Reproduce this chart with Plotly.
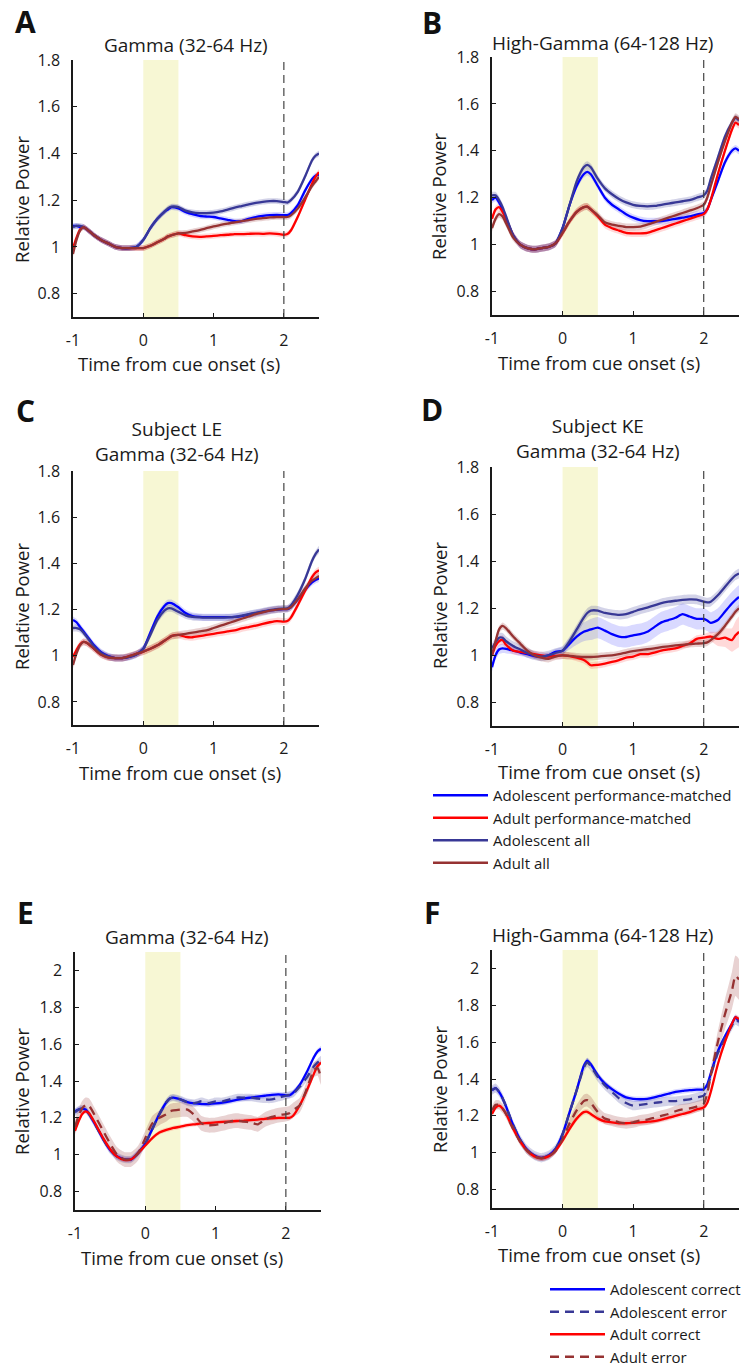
import plotly.graph_objects as go

# ---------------- data ----------------
TIME = [-1.0, -0.95, -0.9, -0.85, -0.8, -0.7, -0.6, -0.5, -0.4, -0.3, -0.2, -0.1,
        0.0, 0.1, 0.2, 0.3, 0.35, 0.4, 0.5, 0.6, 0.7, 0.8, 0.9, 1.0, 1.1, 1.2, 1.3,
        1.4, 1.5, 1.6, 1.7, 1.8, 1.9, 2.0, 2.05, 2.1, 2.2, 2.3, 2.4, 2.45, 2.5]

X_TICKS = [-1, 0, 1, 2]
X_TICK_TEXT = ["-1", "0", "1", "2"]
Y_TICKS_ABCD = [0.8, 1.0, 1.2, 1.4, 1.6, 1.8]
Y_TICK_TEXT_ABCD = ["0.8", "1", "1.2", "1.4", "1.6", "1.8"]
Y_TICKS_EF = [0.8, 1.0, 1.2, 1.4, 1.6, 1.8, 2.0]
Y_TICK_TEXT_EF = ["0.8", "1", "1.2", "1.4", "1.6", "1.8", "2"]
CUE_WINDOW = [0.0, 0.5]
DELAY_END = 2.0

NAMES_MATCHED = ["Adolescent performance-matched", "Adult performance-matched",
                 "Adolescent all", "Adult all"]
NAMES_OUTCOME = ["Adolescent correct", "Adolescent error", "Adult correct", "Adult error"]

# Panel A - Gamma
A_ADOL_PM = [1.09, 1.09, 1.085, 1.085, 1.075, 1.05, 1.03, 1.015, 1.0, 0.995, 0.995, 1.0,
             1.03, 1.08, 1.12, 1.15, 1.16, 1.17, 1.165, 1.15, 1.14, 1.133, 1.13, 1.128, 1.122, 1.116, 1.11,
             1.11, 1.12, 1.128, 1.133, 1.136, 1.137, 1.136, 1.136, 1.145, 1.18, 1.24, 1.29, 1.305, 1.31]
A_ADULT_PM = [0.995, 1.04, 1.075, 1.085, 1.075, 1.05, 1.03, 1.015, 1.0, 0.995, 0.995, 0.995,
              0.995, 1.005, 1.02, 1.035, 1.045, 1.05, 1.058, 1.05, 1.045, 1.043, 1.045, 1.047, 1.05, 1.052, 1.055,
              1.055, 1.056, 1.057, 1.056, 1.058, 1.056, 1.052, 1.055, 1.07, 1.13, 1.2, 1.27, 1.3, 1.32]
A_ADOL_ALL = [1.085, 1.09, 1.09, 1.085, 1.075, 1.05, 1.03, 1.015, 1.0, 0.995, 0.995, 1.0,
              1.03, 1.08, 1.12, 1.15, 1.165, 1.172, 1.17, 1.155, 1.148, 1.145, 1.145, 1.147, 1.152, 1.16, 1.168,
              1.175, 1.182, 1.188, 1.193, 1.196, 1.196, 1.192, 1.19, 1.2, 1.237, 1.3, 1.37, 1.39, 1.4]
A_ADULT_ALL = [0.97, 1.03, 1.07, 1.085, 1.075, 1.05, 1.03, 1.015, 1.0, 0.995, 0.995, 0.995,
               0.995, 1.005, 1.02, 1.035, 1.045, 1.05, 1.058, 1.06, 1.066, 1.072, 1.08, 1.088, 1.094, 1.1, 1.105,
               1.11, 1.115, 1.12, 1.123, 1.126, 1.128, 1.128, 1.128, 1.135, 1.165, 1.21, 1.26, 1.28, 1.3]

# Panel B - High-Gamma
B_ADOL_PM = [1.19, 1.2, 1.18, 1.15, 1.11, 1.04, 1.0, 0.985, 0.98, 0.985, 0.99, 1.005,
             1.07, 1.17, 1.25, 1.3, 1.31, 1.3, 1.25, 1.2, 1.17, 1.15, 1.13, 1.115, 1.105, 1.1, 1.1,
             1.1, 1.105, 1.11, 1.115, 1.12, 1.128, 1.135, 1.15, 1.19, 1.27, 1.35, 1.4, 1.41, 1.4]
B_ADULT_PM = [1.11, 1.15, 1.16, 1.14, 1.11, 1.04, 1.0, 0.985, 0.98, 0.985, 0.99, 1.005,
              1.05, 1.1, 1.14, 1.16, 1.162, 1.15, 1.12, 1.085, 1.07, 1.06, 1.05, 1.048, 1.048, 1.05, 1.06,
              1.07, 1.08, 1.09, 1.1, 1.11, 1.12, 1.13, 1.15, 1.19, 1.3, 1.4, 1.49, 1.52, 1.51]
B_ADOL_ALL = [1.21, 1.21, 1.19, 1.16, 1.12, 1.04, 1.0, 0.985, 0.98, 0.985, 0.99, 1.005,
              1.07, 1.17, 1.27, 1.33, 1.34, 1.33, 1.28, 1.24, 1.215, 1.195, 1.18, 1.17, 1.165, 1.163, 1.165,
              1.17, 1.175, 1.18, 1.185, 1.19, 1.2, 1.21, 1.23, 1.28, 1.37, 1.46, 1.52, 1.54, 1.53]
B_ADULT_ALL = [1.07, 1.11, 1.13, 1.12, 1.09, 1.03, 1.0, 0.985, 0.98, 0.985, 0.99, 1.005,
               1.05, 1.1, 1.14, 1.16, 1.162, 1.15, 1.125, 1.095, 1.085, 1.08, 1.075, 1.075, 1.077, 1.085, 1.095,
               1.105, 1.115, 1.125, 1.135, 1.145, 1.155, 1.17, 1.2, 1.25, 1.35, 1.44, 1.52, 1.545, 1.535]

# Panel C - Subject LE, Gamma
C_ADOL_PM = [1.155, 1.145, 1.125, 1.105, 1.085, 1.045, 1.015, 0.998, 0.99, 0.99, 0.995, 1.005,
             1.03, 1.1, 1.17, 1.215, 1.228, 1.228, 1.21, 1.185, 1.172, 1.168, 1.167, 1.167, 1.167, 1.167, 1.168,
             1.172, 1.178, 1.184, 1.19, 1.196, 1.2, 1.202, 1.202, 1.21, 1.245, 1.285, 1.318, 1.328, 1.335]
C_ADULT_PM = [0.995, 1.025, 1.05, 1.06, 1.055, 1.03, 1.005, 0.993, 0.99, 0.99, 0.998, 1.008,
              1.018, 1.03, 1.045, 1.065, 1.075, 1.085, 1.09, 1.082, 1.08, 1.085, 1.09, 1.095, 1.1, 1.105, 1.11,
              1.118, 1.124, 1.13, 1.138, 1.145, 1.15, 1.148, 1.15, 1.165, 1.22, 1.28, 1.34, 1.36, 1.37]
C_ADOL_ALL = [1.12, 1.12, 1.115, 1.1, 1.08, 1.04, 1.012, 0.997, 0.99, 0.99, 0.995, 1.005,
              1.03, 1.09, 1.155, 1.195, 1.205, 1.205, 1.19, 1.175, 1.168, 1.166, 1.165, 1.165, 1.165, 1.166, 1.168,
              1.174, 1.18, 1.186, 1.192, 1.198, 1.202, 1.204, 1.205, 1.218, 1.265, 1.33, 1.41, 1.44, 1.46]
C_ADULT_ALL = [0.96, 1.01, 1.045, 1.06, 1.055, 1.03, 1.005, 0.993, 0.99, 0.99, 0.998, 1.008,
               1.018, 1.03, 1.045, 1.065, 1.075, 1.085, 1.09, 1.095, 1.1, 1.105, 1.11, 1.12, 1.13, 1.14, 1.15,
               1.16, 1.17, 1.18, 1.188, 1.195, 1.2, 1.202, 1.203, 1.21, 1.245, 1.29, 1.325, 1.335, 1.345]

# Panel D - Subject KE, Gamma
D_ADOL_PM = [0.95, 1.0, 1.025, 1.03, 1.028, 1.02, 1.012, 1.005, 0.997, 0.995, 1.0, 1.015,
             1.02, 1.05, 1.08, 1.1, 1.105, 1.11, 1.118, 1.105, 1.09, 1.08, 1.078, 1.085, 1.09, 1.1, 1.12,
             1.14, 1.15, 1.16, 1.175, 1.165, 1.155, 1.155, 1.148, 1.138, 1.15, 1.185, 1.22, 1.235, 1.248]
D_ADULT_PM = [1.0, 1.04, 1.06, 1.065, 1.045, 1.02, 1.015, 1.01, 1.005, 1.0, 0.995, 0.998,
              1.0, 0.997, 0.99, 0.98, 0.97, 0.958, 0.96, 0.965, 0.972, 0.98, 0.99, 0.995, 1.005, 1.005, 1.012,
              1.02, 1.025, 1.03, 1.04, 1.05, 1.07, 1.075, 1.078, 1.08, 1.07, 1.075, 1.065, 1.085, 1.1]
D_ADOL_ALL = [1.03, 1.055, 1.075, 1.075, 1.06, 1.04, 1.025, 1.01, 1.0, 0.995, 1.0, 1.01,
              1.02, 1.06, 1.11, 1.16, 1.18, 1.19, 1.19, 1.18, 1.175, 1.172, 1.175, 1.185, 1.195, 1.203, 1.212,
              1.222, 1.228, 1.232, 1.236, 1.238, 1.237, 1.228, 1.225, 1.228, 1.255, 1.29, 1.325, 1.34, 1.348]
D_ADULT_ALL = [1.0, 1.06, 1.11, 1.125, 1.115, 1.08, 1.05, 1.02, 1.0, 0.99, 0.985, 0.995,
               1.0, 0.998, 0.995, 0.993, 0.993, 0.993, 0.995, 0.998, 1.0, 1.005, 1.012, 1.018, 1.022, 1.026, 1.03,
               1.035, 1.038, 1.042, 1.045, 1.048, 1.05, 1.052, 1.055, 1.065, 1.09, 1.125, 1.165, 1.185, 1.2]

# Panel E - Gamma, correct vs error
E_ADOL_COR = [1.235, 1.245, 1.25, 1.245, 1.22, 1.155, 1.085, 1.025, 0.99, 0.975, 0.975, 1.01,
              1.06, 1.14, 1.22, 1.285, 1.305, 1.31, 1.3, 1.285, 1.278, 1.275, 1.275, 1.278, 1.283, 1.29, 1.298,
              1.305, 1.31, 1.315, 1.32, 1.325, 1.327, 1.322, 1.322, 1.335, 1.38, 1.45, 1.53, 1.56, 1.575]
E_ADOL_ERR = [1.23, 1.245, 1.25, 1.245, 1.22, 1.155, 1.085, 1.025, 0.99, 0.975, 0.975, 1.01,
              1.06, 1.14, 1.22, 1.285, 1.305, 1.31, 1.3, 1.285, 1.28, 1.29, 1.28, 1.29, 1.29, 1.3, 1.31,
              1.31, 1.31, 1.305, 1.3, 1.3, 1.31, 1.32, 1.325, 1.33, 1.37, 1.42, 1.48, 1.5, 1.515]
E_ADULT_COR = [1.13, 1.18, 1.22, 1.235, 1.225, 1.16, 1.09, 1.03, 0.99, 0.972, 0.975, 1.01,
               1.05, 1.09, 1.12, 1.135, 1.14, 1.145, 1.152, 1.16, 1.165, 1.17, 1.172, 1.175, 1.178, 1.18, 1.183,
               1.185, 1.188, 1.19, 1.195, 1.198, 1.2, 1.2, 1.2, 1.21, 1.27, 1.35, 1.44, 1.48, 1.5]
E_ADULT_ERR = [1.15, 1.21, 1.25, 1.27, 1.265, 1.2, 1.13, 1.06, 1.0, 0.975, 0.975, 1.01,
               1.09, 1.17, 1.2, 1.22, 1.235, 1.24, 1.245, 1.245, 1.215, 1.17, 1.16, 1.162, 1.17, 1.18, 1.185,
               1.18, 1.175, 1.165, 1.19, 1.205, 1.215, 1.22, 1.225, 1.24, 1.27, 1.36, 1.46, 1.47, 1.42]

# Panel F - High-Gamma, correct vs error
F_ADOL_COR = [1.34, 1.35, 1.33, 1.295, 1.25, 1.15, 1.07, 1.015, 0.985, 0.972, 0.985, 1.02,
              1.1, 1.22, 1.34, 1.47, 1.5, 1.48, 1.42, 1.375, 1.345, 1.32, 1.3, 1.292, 1.29, 1.292, 1.3,
              1.31, 1.32, 1.33, 1.335, 1.34, 1.342, 1.345, 1.37, 1.43, 1.55, 1.63, 1.7, 1.735, 1.71]
F_ADOL_ERR = [1.34, 1.35, 1.33, 1.295, 1.25, 1.15, 1.07, 1.015, 0.985, 0.972, 0.985, 1.02,
              1.1, 1.22, 1.34, 1.46, 1.49, 1.47, 1.41, 1.365, 1.33, 1.295, 1.27, 1.255, 1.26, 1.265, 1.27,
              1.275, 1.28, 1.28, 1.285, 1.29, 1.3, 1.31, 1.35, 1.42, 1.54, 1.62, 1.69, 1.72, 1.71]
F_ADULT_COR = [1.21, 1.245, 1.255, 1.24, 1.21, 1.13, 1.06, 1.01, 0.98, 0.97, 0.98, 1.01,
               1.065, 1.13, 1.185, 1.22, 1.222, 1.21, 1.185, 1.17, 1.165, 1.16, 1.16, 1.162, 1.165, 1.168, 1.172,
               1.18, 1.19, 1.2, 1.21, 1.22, 1.235, 1.245, 1.27, 1.33, 1.48, 1.6, 1.7, 1.735, 1.725]
F_ADULT_ERR = [1.23, 1.26, 1.26, 1.24, 1.21, 1.13, 1.06, 1.01, 0.98, 0.97, 0.98, 1.01,
               1.075, 1.16, 1.23, 1.28, 1.285, 1.27, 1.22, 1.185, 1.175, 1.165, 1.16, 1.165, 1.175, 1.18, 1.19,
               1.2, 1.21, 1.225, 1.235, 1.24, 1.25, 1.265, 1.32, 1.42, 1.6, 1.75, 1.88, 1.96, 1.94]

# standard errors (shaded bands)
SEM_A = [0.012, 0.012, 0.012, 0.012]
SEM_B = [0.015, 0.015, 0.015, 0.015]
SEM_C = [0.015, 0.015, 0.015, 0.015]
D_ADOL_PM_SEM = [0.02, 0.02, 0.02, 0.02, 0.02, 0.015, 0.015, 0.015, 0.012, 0.012, 0.012, 0.012,
                 0.015, 0.025, 0.035, 0.04, 0.042, 0.045, 0.045, 0.045, 0.045, 0.045, 0.045, 0.045, 0.045, 0.045, 0.045,
                 0.045, 0.045, 0.045, 0.045, 0.045, 0.045, 0.045, 0.045, 0.045, 0.05, 0.05, 0.05, 0.05, 0.05]
D_ADULT_PM_SEM = [0.02, 0.02, 0.02, 0.02, 0.02, 0.015, 0.015, 0.015, 0.015, 0.015, 0.015, 0.015,
                  0.015, 0.015, 0.015, 0.015, 0.015, 0.015, 0.015, 0.015, 0.015, 0.015, 0.015, 0.015, 0.015, 0.015, 0.015,
                  0.015, 0.015, 0.015, 0.015, 0.015, 0.015, 0.015, 0.018, 0.02, 0.03, 0.04, 0.05, 0.06, 0.065]
SEM_D_ALL = [0.02, 0.015]
SEM_E = [0.015, 0.02, 0.012, 0.04]
SEM_F = [0.015, 0.025, 0.015]
F_ADULT_ERR_SEM = [0.025, 0.025, 0.025, 0.025, 0.025, 0.02, 0.02, 0.02, 0.015, 0.015, 0.015, 0.015,
                   0.02, 0.025, 0.03, 0.035, 0.035, 0.035, 0.03, 0.03, 0.03, 0.03, 0.03, 0.03, 0.03, 0.03, 0.03,
                   0.03, 0.03, 0.03, 0.03, 0.03, 0.03, 0.03, 0.035, 0.04, 0.06, 0.08, 0.1, 0.11, 0.11]

# ---------------- style ----------------
W, H = 753, 1369
FONT = "Open Sans"
BLUE, RED, NAVY, DRED = "#0000ff", "#ff0000", "#383896", "#963232"
BAND = {BLUE: "rgba(0,0,255,0.15)", RED: "rgba(255,0,0,0.15)",
        NAVY: "rgba(56,56,150,0.22)", DRED: "rgba(150,50,50,0.22)"}


def px(x):
    return x / W


def py(y):
    return 1 - y / H


# panel boxes in pixels: left, right, top, bottom
BOXES = [(73, 319, 60, 317), (492, 739, 57, 315),
         (73, 319, 471, 725), (492, 739, 467, 726),
         (75, 321, 952, 1210), (492, 739, 950, 1208)]

fig = go.Figure()


def add_series(k, y, sem, color, name, dash, legend, show):
    ax = "" if k == 1 else str(k)
    if isinstance(sem, (int, float)):
        sem = [sem] * len(y)
    up = [v + s for v, s in zip(y, sem)]
    lo = [v - s for v, s in zip(y, sem)]
    fig.add_trace(go.Scatter(x=TIME + TIME[::-1], y=up + lo[::-1], fill="toself",
                             fillcolor=BAND[color], line=dict(width=0, shape="spline", smoothing=0.6),
                             mode="lines", hoverinfo="skip", showlegend=False,
                             xaxis="x" + ax, yaxis="y" + ax))
    return dict(x=TIME, y=y, mode="lines", name=name,
                line=dict(color=color, width=2.3, dash=dash, shape="spline", smoothing=0.6),
                showlegend=show, legend=legend, xaxis="x" + ax, yaxis="y" + ax)


panels_matched = [
    (1, [A_ADOL_PM, A_ADULT_PM, A_ADOL_ALL, A_ADULT_ALL], SEM_A),
    (2, [B_ADOL_PM, B_ADULT_PM, B_ADOL_ALL, B_ADULT_ALL], SEM_B),
    (3, [C_ADOL_PM, C_ADULT_PM, C_ADOL_ALL, C_ADULT_ALL], SEM_C),
    (4, [D_ADOL_PM, D_ADULT_PM, D_ADOL_ALL, D_ADULT_ALL],
     [D_ADOL_PM_SEM, D_ADULT_PM_SEM, SEM_D_ALL[0], SEM_D_ALL[1]]),
]
colors_matched = [BLUE, RED, NAVY, DRED]
for k, series, sems in panels_matched:
    lines = []
    for y, s, c, n in zip(series, sems, colors_matched, NAMES_MATCHED):
        lines.append(add_series(k, y, s, c, n, "solid", "legend", k == 4))
    for ln in lines:
        fig.add_trace(go.Scatter(**ln))

panels_outcome = [
    (5, [E_ADOL_COR, E_ADOL_ERR, E_ADULT_COR, E_ADULT_ERR], SEM_E),
    (6, [F_ADOL_COR, F_ADOL_ERR, F_ADULT_COR, F_ADULT_ERR],
     [SEM_F[0], SEM_F[1], SEM_F[2], F_ADULT_ERR_SEM]),
]
colors_outcome = [BLUE, NAVY, RED, DRED]
dashes_outcome = ["solid", "9px,6px", "solid", "9px,6px"]
for k, series, sems in panels_outcome:
    lines = []
    for y, s, c, n, d in zip(series, sems, colors_outcome, NAMES_OUTCOME, dashes_outcome):
        lines.append(add_series(k, y, s, c, n, d, "legend2", k == 6))
    for ln in lines:
        fig.add_trace(go.Scatter(**ln))

layout = dict(width=W, height=H, margin=dict(l=0, r=0, t=0, b=0, autoexpand=False),
              paper_bgcolor="white", plot_bgcolor="rgba(0,0,0,0)",
              font=dict(family=FONT, size=16, color="#1a1a1a"),
              shapes=[], annotations=[])

for k, (l, r, t, b) in enumerate(BOXES, start=1):
    ax = "" if k == 1 else str(k)
    ef = k >= 5
    layout["xaxis" + ax] = dict(domain=[px(l), px(r)], range=[-1, 2.5], anchor="y" + ax,
                                tickvals=X_TICKS, ticktext=X_TICK_TEXT, ticks="inside", ticklen=4,
                                tickcolor="#1a1a1a", showline=True, linecolor="#1a1a1a", linewidth=1.5,
                                showgrid=False, zeroline=False, ticklabelstandoff=8, automargin=False,
                                tickfont=dict(size=16))
    layout["yaxis" + ax] = dict(domain=[py(b), py(t)], range=[0.7, 2.1] if ef else [0.7, 1.8],
                                anchor="x" + ax,
                                tickvals=Y_TICKS_EF if ef else Y_TICKS_ABCD,
                                ticktext=Y_TICK_TEXT_EF if ef else Y_TICK_TEXT_ABCD,
                                ticks="inside", ticklen=4, tickcolor="#1a1a1a",
                                showline=True, linecolor="#1a1a1a", linewidth=1.5,
                                showgrid=False, zeroline=False, ticklabelstandoff=8, automargin=False,
                                tickfont=dict(size=16))
    layout["shapes"].append(dict(type="rect", xref="x" + ax, yref="y" + ax + " domain",
                                 x0=CUE_WINDOW[0], x1=CUE_WINDOW[1], y0=0, y1=1,
                                 fillcolor="#f7f7d4", line=dict(width=0), layer="below"))
    layout["shapes"].append(dict(type="line", xref="x" + ax, yref="y" + ax + " domain",
                                 x0=DELAY_END, x1=DELAY_END, y0=0, y1=1,
                                 line=dict(color="#444444", width=1.2, dash="8px,5px"), layer="above"))

TITLES = [("Gamma (32-64 Hz)", 186, 45), ("High-Gamma (64-128 Hz)", 602, 43),
          ("Subject LE<br>Gamma (32-64 Hz)", 177, 441), ("Subject KE<br>Gamma (32-64 Hz)", 598, 439),
          ("Gamma (32-64 Hz)", 187, 937), ("High-Gamma (64-128 Hz)", 602, 935)]
for text, x, y in TITLES:
    layout["annotations"].append(dict(text=text, x=px(x), y=py(y), xref="paper", yref="paper",
                                      showarrow=False, xanchor="center", yanchor="middle",
                                      font=dict(size=19)))

XLAB = [(179, 363), (599, 362), (180, 772), (599, 771), (182, 1257), (599, 1254)]
YLAB = [(21, 200), (439, 197), (21, 607), (439, 606), (21, 1092), (439, 1090)]
for (xx, xy), (yx, yy) in zip(XLAB, YLAB):
    layout["annotations"].append(dict(text="Time from cue onset (s)", x=px(xx), y=py(xy),
                                      xref="paper", yref="paper", showarrow=False,
                                      xanchor="center", yanchor="middle", font=dict(size=18.5)))
    layout["annotations"].append(dict(text="Relative Power", x=px(yx), y=py(yy), textangle=-90,
                                      xref="paper", yref="paper", showarrow=False,
                                      xanchor="center", yanchor="middle", font=dict(size=18.5)))

LETTERS = [("A", 26, 22), ("B", 432, 23), ("C", 26, 410), ("D", 432, 409), ("E", 26, 913), ("F", 432, 913)]
for text, x, y in LETTERS:
    layout["annotations"].append(dict(text="<b>" + text + "</b>", x=px(x), y=py(y),
                                      xref="paper", yref="paper", showarrow=False,
                                      xanchor="center", yanchor="middle",
                                      font=dict(size=30, color="#111111")))

layout["legend"] = dict(x=px(428), y=py(779), xanchor="left", yanchor="top",
                        bgcolor="rgba(0,0,0,0)", font=dict(size=15), itemwidth=55,
                        tracegroupgap=0)
layout["legend2"] = dict(x=px(545), y=py(1273), xanchor="left", yanchor="top",
                         bgcolor="rgba(0,0,0,0)", font=dict(size=15), itemwidth=55,
                         tracegroupgap=0)

fig.update_layout(**layout)
fig.write_html("out.html", config={"displayModeBar": False},
               post_script="document.body.style.margin='0';document.body.style.overflow='hidden';")
